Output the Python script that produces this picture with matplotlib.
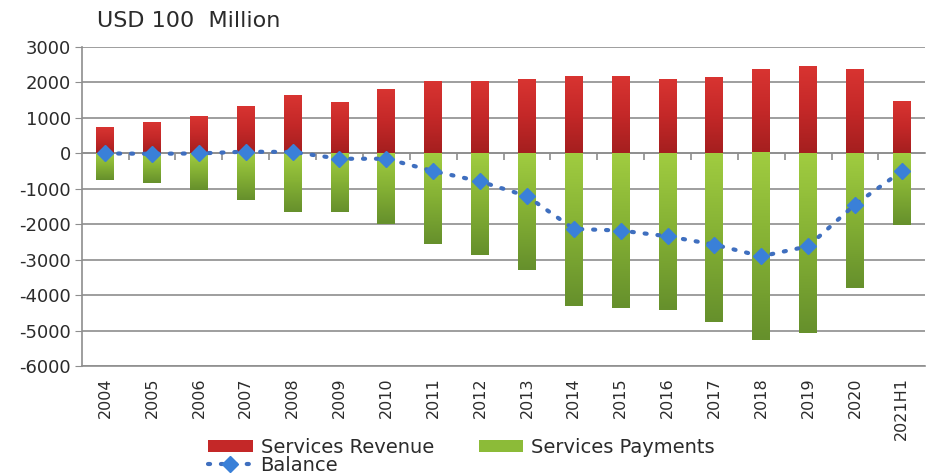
import numpy as np
import matplotlib
matplotlib.use('Agg')
import matplotlib.pyplot as plt
from matplotlib.colors import LinearSegmentedColormap
from matplotlib.patches import Patch
from matplotlib.lines import Line2D

plt.rcParams['font.family'] = ['DejaVu Sans']
plt.rcParams['axes.unicode_minus'] = False

years = ['2004', '2005', '2006', '2007', '2008', '2009', '2010', '2011', '2012',
         '2013', '2014', '2015', '2016', '2017', '2018', '2019', '2020', '2021H1']
revenue = [720, 860, 1030, 1320, 1610, 1420, 1790, 2010, 2015,
           2070, 2166, 2166, 2070, 2118, 2353, 2449, 2353, 1460]
payments = [-743, -840, -1030, -1315, -1640, -1640, -1983, -2554, -2850,
            -3296, -4313, -4370, -4407, -4746, -5273, -5065, -3805, -2025]
balance = [0, -10, 0, 50, 40, -150, -150, -497, -790,
           -1205, -2128, -2175, -2336, -2571, -2901, -2618, -1441, -500]

grid_col = '#8e8e8e'
text_col = '#2b2b2b'
line_style = dict(linestyle=(0, (0.5, 2.6)), dash_capstyle='round', linewidth=3,
                  color='#3f6fbf', marker='D', markersize=8,
                  markerfacecolor='#3a80d8', markeredgecolor='#3a80d8')

fig = plt.figure(figsize=(9.29, 4.75), dpi=100)
ax = fig.add_axes([0.088, 0.229, 0.908, 0.672])

x = np.arange(len(years))
w = 0.38

# bars drawn invisible, then filled with a vertical gradient
red_cmap = LinearSegmentedColormap.from_list('red', ['#a51f1f', '#c42828', '#d83431'])
green_cmap = LinearSegmentedColormap.from_list('green', ['#66902c', '#84b034', '#a0cc40'])
grad = np.linspace(0, 1, 64).reshape(-1, 1)

rev_bars = ax.bar(x, revenue, w, color='none', zorder=2)
pay_bars = ax.bar(x, payments, w, color='none', zorder=2)
for b in rev_bars:
    x0, y0 = b.get_x(), b.get_y()
    ax.imshow(grad, cmap=red_cmap, origin='lower', aspect='auto', zorder=2,
              extent=[x0, x0 + b.get_width(), y0, y0 + b.get_height()])
for b in pay_bars:
    x0, y0 = b.get_x(), b.get_y()
    ax.imshow(grad, cmap=green_cmap, origin='lower', aspect='auto', zorder=2,
              extent=[x0, x0 + b.get_width(), y0 + b.get_height(), y0])

ax.plot(x, balance, zorder=4, **line_style)

ax.set_xlim(-0.5, len(years) - 0.5)
ax.set_ylim(-6000, 3000)
ax.set_yticks(np.arange(-6000, 3001, 1000))
ax.yaxis.grid(True, color=grid_col, linewidth=1.2, zorder=0)
ax.set_axisbelow(True)

ax.set_xticks(x)
ax.set_xticklabels(years, rotation=90, fontsize=11.5, color=text_col)
ax.tick_params(axis='x', length=0, pad=8)
ax.tick_params(axis='y', length=5, color=grid_col, labelsize=13, labelcolor=text_col, pad=3)

for s in ['top', 'right']:
    ax.spines[s].set_visible(False)
ax.spines['left'].set_color(grid_col)
ax.spines['bottom'].set_color(grid_col)
ax.spines['left'].set_linewidth(1.2)
ax.spines['bottom'].set_linewidth(1.2)

# category axis along the zero line, ticks hanging below it
zero_ax = ax.secondary_xaxis(6000 / 9000)
zero_ax.set_xticks(x[:-1] + 0.5)
zero_ax.set_xticklabels([])
zero_ax.tick_params(length=5, color=grid_col, width=1.2, direction='in')
for s in zero_ax.spines.values():
    s.set_color(grid_col)
    s.set_linewidth(1.2)

fig.text(0.104, 0.955, 'USD 100  Million', fontsize=16, color=text_col, va='center')

handles = [Patch(facecolor='#c42828'),
           Line2D([], [], **line_style),
           Patch(facecolor='#8cbb38')]
labels = ['Services Revenue', 'Balance', 'Services Payments']
fig.legend(handles, labels, ncol=2, loc='upper left', bbox_to_anchor=(0.224, 0.078),
           frameon=False, fontsize=14, handlelength=2.3, handleheight=0.6,
           borderpad=0, borderaxespad=0, labelspacing=-0.05, columnspacing=2.3,
           handletextpad=0.4, labelcolor=text_col)

fig.savefig('out.png', dpi=100)
